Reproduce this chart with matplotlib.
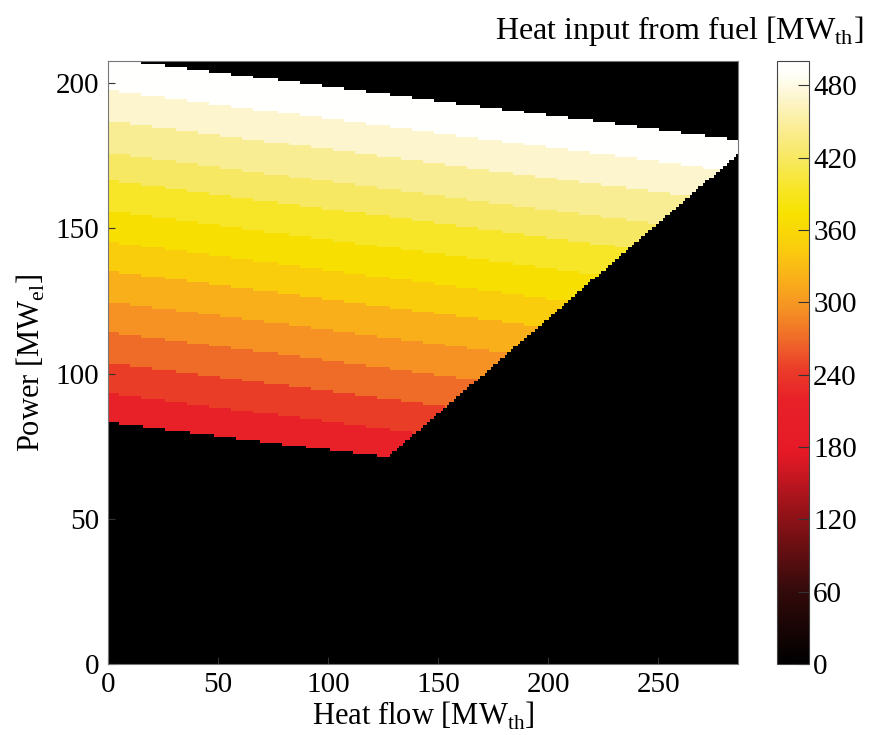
import numpy as np
import matplotlib
matplotlib.use("Agg")
import matplotlib.pyplot as plt
from matplotlib.colors import LinearSegmentedColormap
from matplotlib.path import Path

plt.rcParams['font.family'] = 'Liberation Serif'
plt.rcParams['mathtext.fontset'] = 'custom'
plt.rcParams['mathtext.rm'] = 'Liberation Serif'

# axis extents [MW]
q_max = 286
p_max = 207.5

# operating region corners (heat flow, power)
region_q = [0, 286, 286, 127, 0]
region_p = [208, 180, 175, 71, 83]

# fuel heat input bands: power edges at zero heat flow and band values
band_edges = [83, 93, 103.5, 114, 124.5, 135, 145, 155.5, 166, 175.5, 186.5, 197, 210]
band_values = [220, 245, 270, 295, 320, 345, 370, 395, 420, 445, 470, 498]
band_slope = 0.098   # drop of band lines in MW_el per MW_th

# colour map anchors (value, rgb)
cmap_vals = [0, 60, 120, 175, 220, 245, 270, 295, 320, 345, 375, 395, 420, 445, 470, 490, 500]
cmap_cols = [(0, 0, 0), (0.2, 0.04, 0.04), (0.55, 0.07, 0.09), (0.9, 0.1, 0.15),
             (0.91, 0.13, 0.16), (0.92, 0.24, 0.16), (0.94, 0.42, 0.16),
             (0.96, 0.57, 0.14), (0.98, 0.69, 0.1), (0.98, 0.8, 0.05),
             (0.97, 0.89, 0.0), (0.97, 0.9, 0.15), (0.97, 0.91, 0.38),
             (0.98, 0.93, 0.58), (0.99, 0.96, 0.8), (1, 1, 0.97), (1, 1, 1)]

cmap = LinearSegmentedColormap.from_list(
    'fuel', list(zip(np.array(cmap_vals) / cmap_vals[-1], cmap_cols)))

# grid of cell centres
qq, pp = np.meshgrid(np.arange(0.5, q_max), np.arange(0.5, p_max))
idx = np.digitize(pp + band_slope * qq, band_edges) - 1
idx = np.clip(idx, 0, len(band_values) - 1)
fuel = np.array(band_values, dtype=float)[idx]

poly = Path(list(zip(region_q, region_p)))
inside = poly.contains_points(np.c_[qq.ravel(), pp.ravel()]).reshape(qq.shape)
fuel[~inside] = 0

fig = plt.figure(figsize=(8.7, 7.35), dpi=100)
ax = fig.add_axes([0.124, 0.0966, 0.724, 0.820])
im = ax.imshow(fuel, origin='lower', extent=[0, q_max, 0, p_max], aspect='auto',
               cmap=cmap, vmin=0, vmax=500, interpolation='nearest')
ax.set_xlim(0, q_max)
ax.set_ylim(0, p_max)
ax.set_xticks([0, 50, 100, 150, 200, 250])
ax.set_yticks([0, 50, 100, 150, 200])
ax.tick_params(direction='in', labelsize=21, length=5, color='#333333')
ax.tick_params(axis='x', pad=6)
ax.tick_params(axis='y', pad=6)
for s in ax.spines.values():
    s.set_color('#777777')
    s.set_linewidth(0.8)
ax.set_xlabel('Heat flow [MW$_{\\rm th}$]', fontsize=22, labelpad=1)
ax.set_ylabel('Power [MW$_{\\rm el}$]', fontsize=22, labelpad=6)

cax = fig.add_axes([0.893, 0.0966, 0.0368, 0.820])
cb = fig.colorbar(im, cax=cax, ticks=[0, 60, 120, 180, 240, 300, 360, 420, 480])
cb.ax.tick_params(direction='in', labelsize=21, length=8, color='#333333', pad=3)
cb.outline.set_edgecolor('#444444')
cb.outline.set_linewidth(0.8)
fig.text(0.992, 0.958, 'Heat input from fuel [MW$_{\\rm th}$]', fontsize=23,
         ha='right', va='center')

fig.savefig('out.png', dpi=100)
